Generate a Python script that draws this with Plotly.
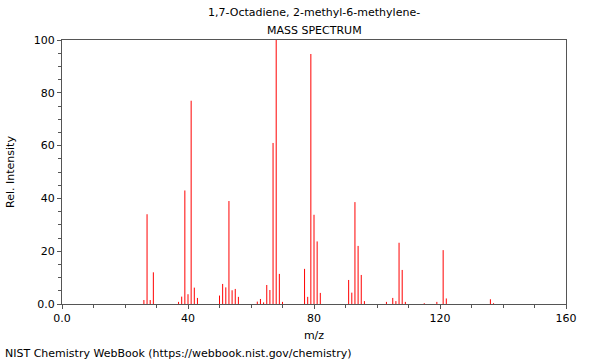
import plotly.graph_objects as go

mz = [26, 27, 28, 29, 37, 38, 39, 40, 41, 42, 43,
      50, 51, 52, 53, 54, 55, 56,
      62, 63, 64, 65, 66, 67, 68, 69, 70,
      77, 78, 79, 80, 81, 82,
      91, 92, 93, 94, 95, 96,
      103, 105, 106, 107, 108, 109,
      115, 119, 121, 122, 136, 137]
intensity = [1.5, 34, 1.5, 12, 0.8, 2.8, 43, 3.7, 77, 6.2, 2.3,
             3.2, 7.6, 6.3, 39, 5.2, 5.7, 2.7,
             0.9, 1.9, 0.6, 7.2, 5.3, 61, 100, 11.4, 0.8,
             13.3, 2.7, 94.7, 33.8, 23.7, 4.2,
             9.1, 4.3, 38.6, 22, 11, 1.1,
             0.8, 2.3, 1.1, 23.2, 12.9, 0.8,
             0.3, 0.8, 20.4, 2.1, 1.8, 0.3]

x_ticks = [0, 40, 80, 120, 160]
x_labels = ["0.0", "40", "80", "120", "160"]
y_ticks = [0, 20, 40, 60, 80, 100]
y_labels = ["0.0", "20", "40", "60", "80", "100"]

xs, ys = [], []
for m, v in zip(mz, intensity):
    xs += [m, m, None]
    ys += [0, v, None]

font = "DejaVu Sans, sans-serif"
fig = go.Figure(go.Scatter(x=xs, y=ys, mode="lines",
                           line=dict(color="#ff0000", width=1),
                           hoverinfo="skip", showlegend=False))

axis_common = dict(showgrid=False, zeroline=False, showline=True, linecolor="#555555",
                   linewidth=1, mirror=True, ticks="outside", ticklen=4, tickcolor="#555555",
                   automargin=False,
                   tickfont=dict(family=font, size=11, color="#000"))
fig.update_xaxes(range=[0, 160], tickvals=x_ticks, ticktext=x_labels,
                 minor=dict(dtick=10, ticklen=3, ticks="outside", tickcolor="#555555"),
                 title=dict(text="m/z", font=dict(family=font, size=11, color="#000"), standoff=7),
                 **axis_common)
fig.update_yaxes(range=[0, 100], tickvals=y_ticks, ticktext=y_labels,
                 minor=dict(dtick=5, ticklen=3, ticks="outside", tickcolor="#555555"),
                 title=dict(text="Rel. Intensity", font=dict(family=font, size=11, color="#000"), standoff=16),
                 **axis_common)

L, R, T, B = 62, 34, 40, 56
pw, ph = 600 - L - R, 360 - T - B

def py(pix):
    return (360 - B - pix) / ph

fig.update_layout(
    width=600, height=360,
    margin=dict(l=L, r=R, t=T, b=B),
    plot_bgcolor="white", paper_bgcolor="white",
    font=dict(family=font, size=11, color="#000"),
    annotations=[
        dict(text="1,7-Octadiene, 2-methyl-6-methylene-", x=0.5, xref="paper",
             y=py(13), yref="paper", yanchor="middle", showarrow=False),
        dict(text="MASS SPECTRUM", x=0.5, xref="paper", y=py(30), yref="paper",
             yanchor="middle", showarrow=False),
        dict(text="NIST Chemistry WebBook (https://webbook.nist.gov/chemistry)",
             x=(3 - L) / pw, xref="paper", y=py(353), yref="paper", yanchor="middle",
             xanchor="left", showarrow=False),
    ],
)

fig.write_html("out.html", config={"displayModeBar": False},
               post_script="document.body.style.margin='0px';")
